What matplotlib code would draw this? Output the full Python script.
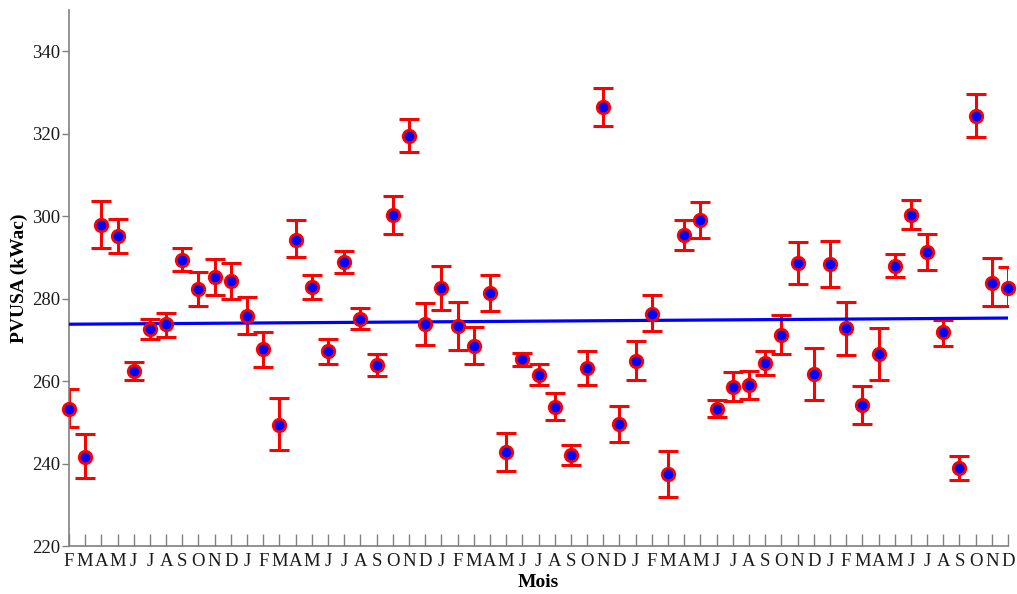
import matplotlib.pyplot as plt
import numpy as np

# month labels, Feb of year 1 -> Dec of year 5
months = ["F", "M", "A", "M", "J", "J", "A", "S", "O", "N", "D"] + \
         ["J", "F", "M", "A", "M", "J", "J", "A", "S", "O", "N", "D"] * 4

pvusa = [253.3, 241.7, 297.8, 295.3, 262.5, 272.7, 273.8, 289.4, 282.3, 285.2,
         284.3, 275.7, 267.7, 249.4, 294.3, 282.9, 267.2, 288.9, 275.1, 263.9,
         300.2, 319.4, 273.8, 282.5, 273.4, 268.6, 281.3, 242.8, 265.3, 261.6,
         253.8, 242.1, 263.1, 326.6, 249.5, 264.8, 276.4, 237.4, 295.4, 299.0,
         253.3, 258.6, 259.1, 264.4, 271.2, 288.6, 261.7, 288.4, 272.8, 254.3,
         266.5, 288.0, 300.4, 291.4, 271.8, 238.9, 324.4, 283.9, 282.7]
err_low = [248.9, 236.4, 292.3, 291.1, 260.3, 270.3, 270.8, 286.8, 278.1, 281.0,
           280.0, 271.4, 263.4, 243.2, 290.0, 280.0, 264.2, 286.2, 272.7, 261.3,
           295.7, 315.5, 268.8, 277.3, 267.6, 264.1, 277.0, 238.2, 263.7, 259.0,
           250.6, 239.7, 259.0, 321.9, 245.2, 260.3, 272.2, 231.8, 291.7, 294.8,
           251.2, 255.2, 255.7, 261.4, 266.6, 283.5, 255.4, 282.9, 266.4, 249.6,
           260.3, 285.3, 297.0, 287.0, 268.4, 236.0, 319.3, 278.3, 278.3]
err_high = [258.0, 247.1, 303.6, 299.4, 264.7, 275.0, 276.6, 292.2, 286.4, 289.7,
            288.7, 280.4, 272.0, 256.0, 299.1, 285.7, 270.2, 291.6, 277.8, 266.6,
            304.8, 323.6, 278.9, 288.0, 279.1, 273.2, 285.7, 247.4, 266.8, 264.1,
            257.1, 244.6, 267.3, 331.2, 254.0, 269.7, 280.8, 243.1, 299.1, 303.5,
            255.4, 262.1, 262.5, 267.4, 276.1, 293.7, 268.1, 294.0, 279.3, 258.9,
            272.8, 290.8, 303.9, 295.7, 274.9, 241.9, 329.6, 289.8, 287.6]
# linear trend, value at first and last month
trend = [273.8, 275.3]

plt.rcParams['font.family'] = ['Liberation Serif', 'DejaVu Serif']

x = np.arange(len(pvusa))
y = np.array(pvusa)
yerr = [y - np.array(err_low), np.array(err_high) - y]

fig = plt.figure(figsize=(10.17, 5.94), dpi=100)
ax = fig.add_axes([0.0678, 0.0808, 0.9234, 0.9022])

ax.errorbar(x, y, yerr=yerr, fmt='none', ecolor='red', elinewidth=2.2,
            capsize=7, capthick=2.2, zorder=2)
ax.plot([x[0], x[-1]], trend, color='blue', lw=2.3, zorder=3)
ax.plot(x, y, 'o', ms=9, mfc='blue', mec='red', mew=2.0, zorder=4, clip_on=False)

ax.set_xlim(0, len(pvusa) - 1)
ax.set_ylim(220, 350)
ax.set_yticks(range(220, 341, 20))
ax.set_xticks(x)
ax.set_xticklabels(months)

for s in ['top', 'right']:
    ax.spines[s].set_visible(False)
for s in ['left', 'bottom']:
    ax.spines[s].set_color('#808080')
    ax.spines[s].set_linewidth(1.2)

ax.tick_params(axis='x', direction='in', length=9, width=1, color='#808080',
               labelsize=13.5, labelcolor='#1a1a1a', pad=5)
ax.tick_params(axis='y', direction='out', length=5, width=1, color='#808080',
               labelsize=13.5, labelcolor='#1a1a1a', pad=1)

ax.set_xlabel("Mois", fontsize=14, fontweight='bold', labelpad=3)
ax.set_ylabel("PVUSA (kWac)", fontsize=14, fontweight='bold', labelpad=3)

plt.savefig("out.png", dpi=100)
